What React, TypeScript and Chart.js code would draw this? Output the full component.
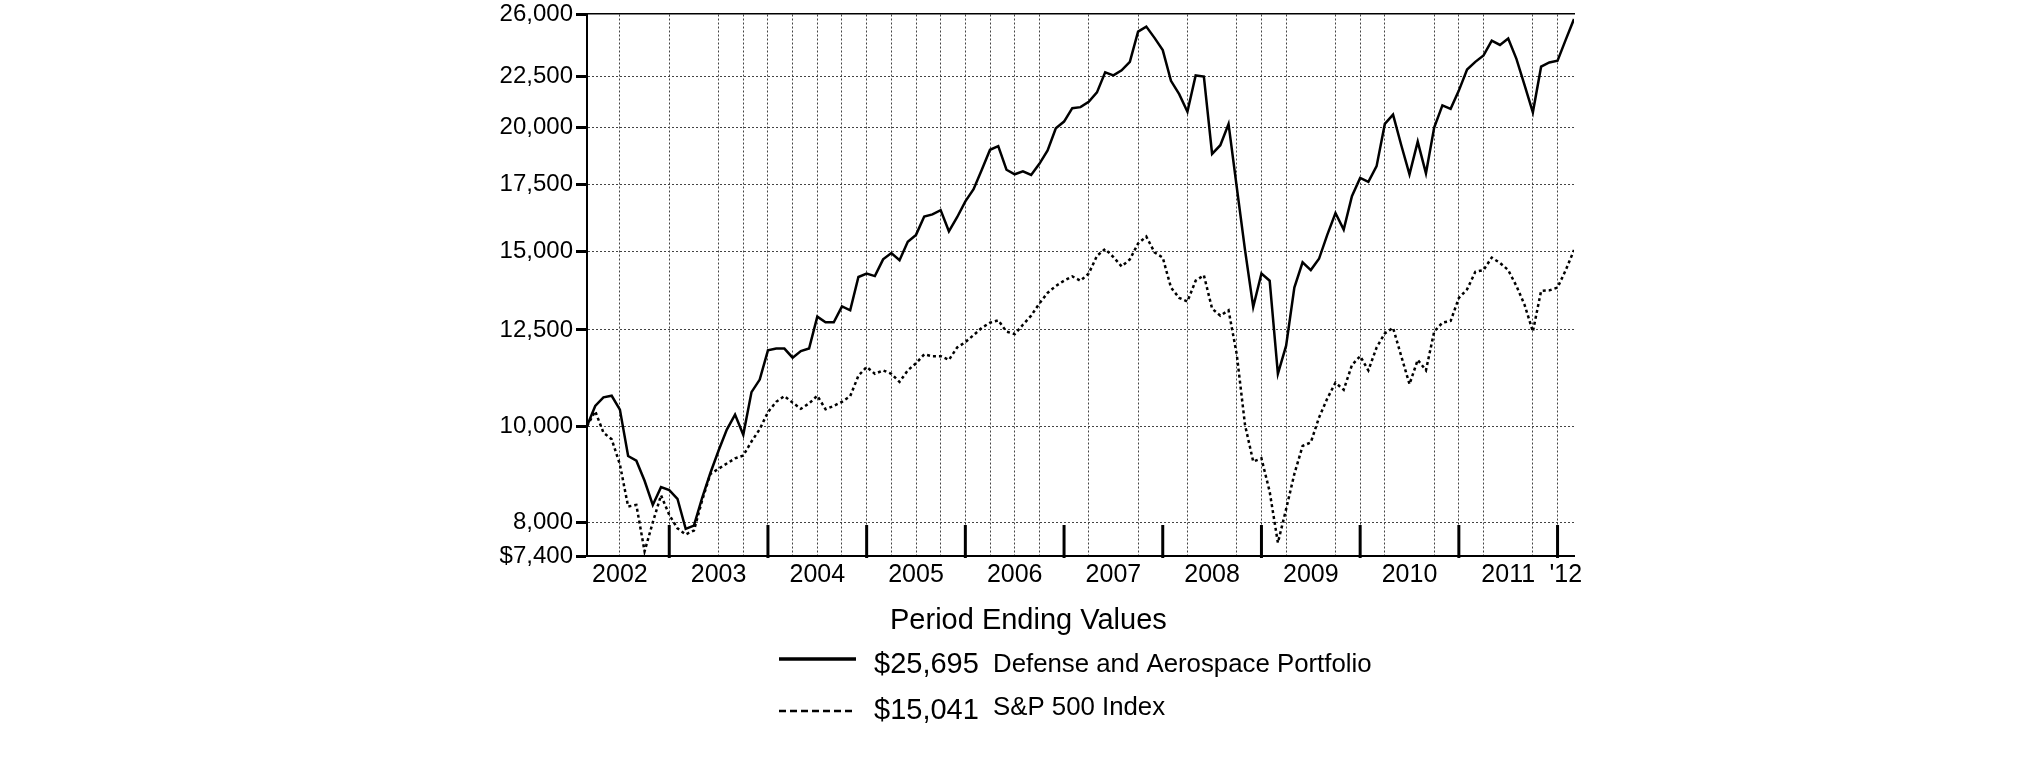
import React, { useEffect, useRef } from "react";
import { Chart, registerables } from "chart.js";

Chart.register(...registerables);

// Month index 0 = Feb 2002 ... 120 = Feb 2012 (period ending values, monthly)
const PORTFOLIO: number[] = [
  10000, 10480, 10690, 10730, 10390, 9330, 9230, 8810, 8330, 8680,
  8620, 8450, 7880, 7940, 8470, 8970, 9450, 9920, 10270, 9800,
  10820, 11140, 11920, 11970, 11970, 11720, 11900, 11970, 12890, 12720,
  12720, 13200, 13080, 14130, 14245, 14160, 14720, 14935, 14690, 15330,
  15580, 16260, 16340, 16500, 15710, 16230, 16840, 17320, 18120, 18980,
  19140, 18120, 17930, 18050, 17900, 18370, 18950, 19950, 20260, 20900,
  20950, 21210, 21680, 22710, 22550, 22820, 23270, 24960, 25250, 24600,
  23910, 22270, 21590, 20730, 22550, 22490, 18800, 19180, 20150, 17400,
  15050, 13180, 14245, 14010, 11290, 12050, 13790, 14620, 14360, 14740,
  15580, 16390, 15770, 17040, 17780, 17620, 18270, 20150, 20590, 19180,
  17930, 19340, 17970, 19980, 21035, 20870, 21770, 22860, 23270, 23620,
  24440, 24200, 24560, 23430, 22040, 20700, 23010, 23240, 23330, 24500,
  25695,
];

const SP500: number[] = [
  10000, 10350, 9850, 9700, 9150, 8300, 8330, 7480, 8000, 8520,
  8140, 7890, 7780, 7850, 8420, 8950, 9060, 9170, 9280, 9340,
  9650, 9930, 10330, 10580, 10720, 10560, 10410, 10540, 10730, 10400,
  10480, 10580, 10720, 11240, 11470, 11290, 11380, 11290, 11080, 11380,
  11570, 11810, 11760, 11760, 11660, 12000, 12150, 12350, 12560, 12710,
  12780, 12450, 12380, 12650, 12920, 13290, 13620, 13840, 14010, 14150,
  14010, 14245, 14840, 15080, 14800, 14480, 14720, 15270, 15520, 14960,
  14780, 13790, 13460, 13350, 14010, 14190, 13130, 12920, 13080, 11810,
  10030, 9210, 9280, 8590, 7630, 8250, 8950, 9550, 9630, 10200,
  10660, 11060, 10880, 11520, 11760, 11380, 12000, 12400, 12560, 11760,
  11020, 11660, 11380, 12450, 12710, 12760, 13460, 13730, 14300, 14360,
  14780, 14600, 14360, 13840, 13240, 12450, 13680, 13700, 13790, 14360,
  15041,
];

const SERIES_NAMES = ["Defense and Aerospace Portfolio", "S&P 500 Index"];
const ENDING_VALUES = ["$25,695", "$15,041"];
const LEGEND_TITLE = "Period Ending Values";

const Y_TICKS = [7400, 8000, 10000, 12500, 15000, 17500, 20000, 22500, 26000];
const Y_TICK_LABELS = ["$7,400", "8,000", "10,000", "12,500", "15,000", "17,500", "20,000", "22,500", "26,000"];

const X_LABEL_MONTHS = [4, 16, 28, 40, 52, 64, 76, 88, 100, 112, 119];
const X_LABELS = ["2002", "2003", "2004", "2005", "2006", "2007", "2008", "2009", "2010", "2011", "'12"];

const YEAR_END_MONTHS = [10, 22, 34, 46, 58, 70, 82, 94, 106, 118];
const GRID_MONTHS = [4, 10, 16, 19, 22, 25, 28, 31, 34, 37, 40, 43, 46, 49, 52, 55, 61, 67, 73, 79, 82, 85, 91, 94, 97, 103, 106, 109, 115, 118];

const FONT = "'Liberation Sans', Arial, Helvetica, sans-serif";

const yearTicksPlugin = {
  id: "yearTicks",
  afterDatasetsDraw(chart: any) {
    const { ctx, chartArea, scales } = chart;
    const x = scales.x;
    ctx.save();
    ctx.strokeStyle = "#000";
    ctx.lineWidth = 3;
    YEAR_END_MONTHS.forEach((m) => {
      const px = x.getPixelForValue(m);
      ctx.beginPath();
      ctx.moveTo(px, chartArea.bottom + 2);
      ctx.lineTo(px, chartArea.bottom - 31);
      ctx.stroke();
    });
    ctx.restore();
  },
};

const legendPlugin = {
  id: "customLegend",
  afterDraw(chart: any) {
    const { ctx } = chart;
    ctx.save();
    ctx.fillStyle = "#000";
    ctx.textBaseline = "alphabetic";
    ctx.textAlign = "left";
    ctx.font = `29px ${FONT}`;
    ctx.fillText(LEGEND_TITLE, 890, 629);

    // solid sample
    ctx.strokeStyle = "#000";
    ctx.lineWidth = 3.5;
    ctx.setLineDash([]);
    ctx.beginPath();
    ctx.moveTo(779, 659);
    ctx.lineTo(856, 659);
    ctx.stroke();
    // dashed sample
    ctx.lineWidth = 2.5;
    ctx.setLineDash([7, 4]);
    ctx.beginPath();
    ctx.moveTo(779, 711);
    ctx.lineTo(856, 711);
    ctx.stroke();
    ctx.setLineDash([]);

    ctx.font = `29px ${FONT}`;
    ctx.fillText(ENDING_VALUES[0], 874, 673);
    ctx.fillText(ENDING_VALUES[1], 874, 719);
    ctx.font = `25.8px ${FONT}`;
    ctx.fillText(SERIES_NAMES[0], 993, 672);
    ctx.fillText(SERIES_NAMES[1], 993, 715);
    ctx.restore();
  },
};

export default function App() {
  const canvasRef = useRef<HTMLCanvasElement | null>(null);

  useEffect(() => {
    const canvas = canvasRef.current;
    if (!canvas) return;
    const chart = new Chart(canvas, {
      type: "line",
      data: {
        datasets: [
          {
            label: SERIES_NAMES[0],
            data: PORTFOLIO.map((v, i) => ({ x: i, y: v })),
            borderColor: "#000",
            borderWidth: 2.5,
            pointRadius: 0,
            tension: 0,
            fill: false,
          },
          {
            label: SERIES_NAMES[1],
            data: SP500.map((v, i) => ({ x: i, y: v })),
            borderColor: "#000",
            borderWidth: 2.5,
            borderDash: [3, 3],
            pointRadius: 0,
            tension: 0,
            fill: false,
          },
        ],
      },
      options: {
        animation: false,
        responsive: false,
        devicePixelRatio: 1,
        layout: { padding: { left: 0, right: 451, top: 14, bottom: 165 } },
        plugins: { legend: { display: false }, tooltip: { enabled: false } },
        scales: {
          x: {
            type: "linear",
            position: "bottom",
            min: 0,
            max: 120,
            afterBuildTicks: (s: any) => {
              s.ticks = X_LABEL_MONTHS.map((v) => ({ value: v }));
            },
            afterFit: (s: any) => {
              s.height = 40;
              s.paddingLeft = 0;
              s.paddingRight = 0;
            },
            grid: { display: false, drawTicks: false },
            border: { display: true, color: "#000", width: 2 },
            ticks: {
              autoSkip: false,
              maxRotation: 0,
              padding: 4,
              color: "#000",
              font: { family: FONT, size: 25 },
              callback: (v: any) => {
                const i = X_LABEL_MONTHS.indexOf(Number(v));
                return i >= 0 ? X_LABELS[i] : "";
              },
            },
          },
          xGrid: {
            type: "linear",
            position: "top",
            min: 0,
            max: 120,
            afterBuildTicks: (s: any) => {
              s.ticks = GRID_MONTHS.map((v) => ({ value: v }));
            },
            afterFit: (s: any) => {
              s.height = 0;
              s.paddingLeft = 0;
              s.paddingRight = 0;
            },
            grid: { color: "#444", lineWidth: 1, drawTicks: false },
            border: { display: true, color: "#000", width: 1.5, dash: [2, 2] },
            ticks: { display: false },
          },
          y: {
            type: "logarithmic",
            position: "left",
            min: 7400,
            max: 26000,
            afterBuildTicks: (s: any) => {
              s.ticks = Y_TICKS.map((v) => ({ value: v }));
            },
            afterFit: (s: any) => {
              s.width = 587;
              s.paddingTop = 0;
              s.paddingBottom = 0;
            },
            grid: {
              color: (c: any) =>
                c.tick && (c.tick.value === 7400 || c.tick.value === 26000) ? "rgba(0,0,0,0)" : "#444",
              lineWidth: 1,
              tickColor: "#000",
              tickWidth: 3,
              tickLength: 11,
            },
            border: { display: true, color: "#000", width: 2, dash: [2, 2] },
            ticks: {
              autoSkip: false,
              padding: 3,
              color: "#000",
              font: { family: FONT, size: 24 },
              callback: (v: any) => {
                const i = Y_TICKS.indexOf(Number(v));
                return i >= 0 ? Y_TICK_LABELS[i] : "";
              },
            },
          },
        },
      } as any,
      plugins: [yearTicksPlugin, legendPlugin],
    });
    return () => chart.destroy();
  }, []);

  return (
    <div style={{ position: "fixed", left: 0, top: 0, width: 2025, height: 761, background: "#fff" }}>
      <canvas ref={canvasRef} width={2025} height={761} style={{ width: 2025, height: 761, display: "block" }} />
    </div>
  );
}
